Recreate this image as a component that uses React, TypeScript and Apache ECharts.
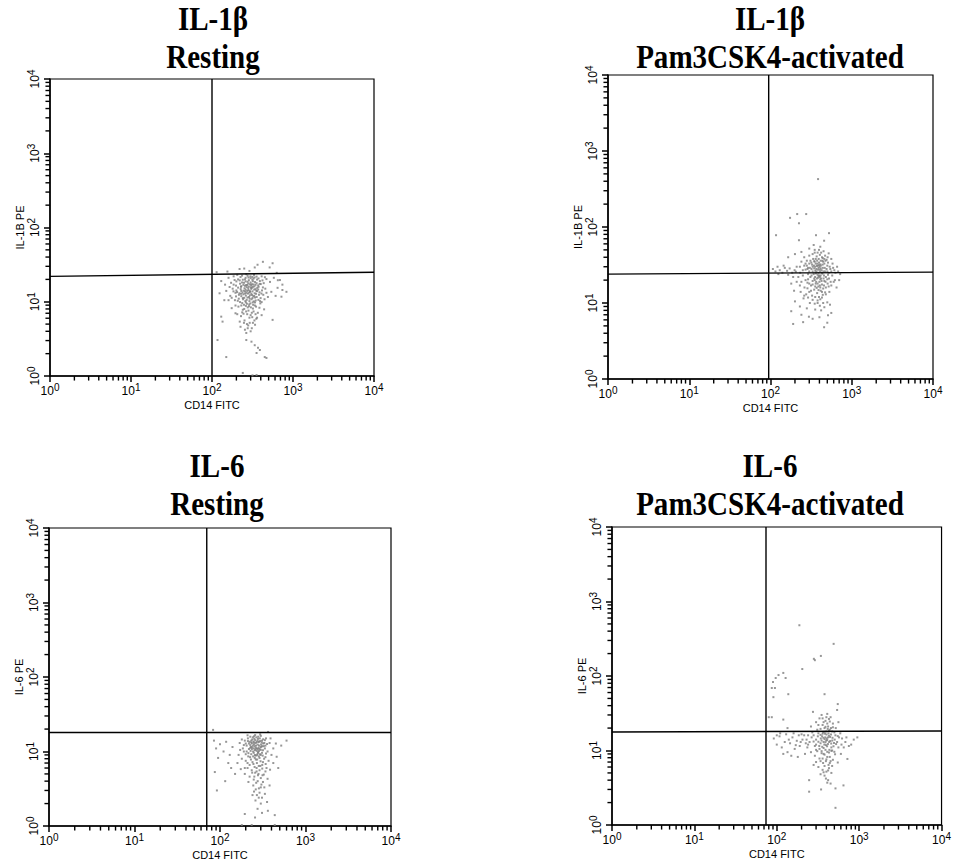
import React, { useEffect, useRef } from "react";
import * as echarts from "echarts";

// ---------- data ----------
const decadeTicks = [1, 10, 100, 1000, 10000];
const minorTicks = [2, 3, 4, 5, 6, 7, 8, 9, 20, 30, 40, 50, 60, 70, 80, 90, 200, 300, 400, 500, 600, 700, 800, 900, 2000, 3000, 4000, 5000, 6000, 7000, 8000, 9000];

const panelTitles = ["IL-1β\nResting", "IL-1β\nPam3CSK4-activated", "IL-6\nResting", "IL-6\nPam3CSK4-activated"];
const xAxisNames = ["CD14 FITC", "CD14 FITC", "CD14 FITC", "CD14 FITC"];
const yAxisNames = ["IL-1B PE", "IL-1B PE", "IL-6 PE", "IL-6 PE"];

// quadrant gates: vertical x value, horizontal y value at left / right edge
const gateX = [100, 95, 70, 74];
const gateYLeft = [22, 24, 18, 17.7];
const gateYRight = [25, 25.5, 18, 18.3];

const il1bResting = [
  [114, 25], [155, 25.5], [219, 27.6], [337, 29], [365, 31.5], [425, 34.5], [515, 29], [560, 33], [630, 24.5], [290, 26], [250, 28],
  [130, 19], [145, 17], [160, 21], [172, 18], [185, 22], [198, 16.5], [210, 20], [222, 17.5], [235, 22.5], [248, 18], [260, 21], [272, 16.8], [285, 19.5], [298, 22], [312, 17.2], [325, 20.5], [340, 18.4], [355, 21.8], [372, 16.6], [390, 19], [410, 22], [435, 17.8], [470, 20.2], [520, 18.5], [580, 21], [650, 19.5], [740, 17], [205, 23], [265, 23.5], [330, 23], [200, 18.8], [240, 19.8], [280, 17.6], [320, 18.9], [360, 19.9], [300, 20.8], [225, 21.5], [275, 22.4], [315, 21.6], [190, 19.6], [255, 16.4], [345, 16.9], [400, 17.3], [450, 21.4],
  [150, 14], [168, 12], [180, 15], [192, 10.5], [204, 13.5], [214, 11], [226, 14.8], [236, 9.6], [244, 12.6], [252, 15.2], [258, 10.2], [266, 13.2], [274, 11.4], [282, 14.4], [288, 9.2], [294, 12.2], [302, 15.6], [308, 10.8], [316, 13.8], [324, 11.8], [332, 14.6], [340, 9.8], [350, 12.8], [362, 15.4], [374, 10.6], [386, 13.4], [398, 11.2], [414, 14.2], [430, 12.4], [455, 15], [490, 11.6], [540, 13.6], [610, 12], [218, 13], [230, 11.9], [262, 12.1], [278, 12.9], [296, 13.6], [312, 12.3], [328, 10.1], [246, 14.1], [268, 15.8], [292, 11], [336, 13], [356, 11.6], [270, 9.4], [250, 11.3], [238, 13.3], [305, 14.9], [320, 15.9], [285, 16], [260, 14.6], [345, 14.8], [210, 15.5], [195, 13.2], [380, 12.4], [230, 16.2],
  [175, 8.2], [195, 7], [212, 8.6], [228, 6.4], [240, 7.8], [252, 5.6], [262, 8.8], [272, 6.8], [282, 7.6], [292, 5.2], [302, 8.4], [314, 6.2], [326, 7.4], [338, 8.9], [352, 5.9], [368, 7.1], [385, 8.3], [410, 6.6], [440, 7.9], [250, 8], [286, 8.7], [230, 8.9], [320, 8.1], [270, 5], [300, 6.6], [245, 6.9], [345, 6.8], [220, 5.4],
  [225, 4.6], [255, 4.2], [280, 4.8], [310, 4.4], [340, 4.9], [265, 3.8], [300, 4],
  [117, 3.05], [150, 1.8], [265, 3.05], [307, 2.9], [337, 2.6], [370, 2.4], [390, 2.24], [355, 2.04], [448, 1.8], [470, 1.75], [240, 1.1], [316, 1.02], [355, 1.03],
  [124, 13], [130, 6.3], [135, 5.4], [142, 10.5], [645, 15.4], [740, 14.4], [830, 13.6], [720, 11.7], [560, 5.7], [690, 19.6],
  [200, 14.2], [215, 12.4], [228, 15.9], [242, 10.8], [256, 13.8], [268, 10.6], [280, 15.2], [294, 13.9], [306, 12.8], [318, 9.8], [332, 12], [346, 10.4], [360, 13.9], [376, 15.9], [392, 10.2], [408, 12.9], [425, 15.6], [445, 10.8], [470, 13.2], [235, 18.2], [255, 20], [275, 18.6], [295, 17.2], [315, 19.8], [335, 21.2], [355, 17.8], [375, 20.6], [420, 19.4], [185, 17], [165, 15.8], [222, 9.9], [248, 9.1], [276, 8.4], [298, 9.5], [322, 9.1], [350, 8.6], [395, 9.5], [208, 10.3], [236, 7.2], [264, 7.4], [310, 7.1], [334, 5.6], [360, 6.1], [248, 5.2], [228, 12.8], [264, 16.8], [288, 13.3], [304, 16.6], [244, 16.9], [326, 17.1], [272, 14], [256, 12.9], [290, 10.2], [316, 11.2], [240, 11.2], [260, 18.8], [300, 18.2], [282, 21.2], [340, 11.4], [372, 14.6], [198, 11.8], [184, 13.8], [220, 19.4], [230, 14], [262, 9.8], [286, 11.6], [310, 15.4], [334, 16.1], [352, 14.1], [388, 17.4], [410, 9.9], [160, 10.5], [175, 11.3], [290, 6.1], [320, 5.2], [276, 4.4], [205, 6.8], [195, 8.9],
];

const il1bActivated = [
  [385, 427], [174, 132], [213, 148], [275, 148], [224, 112], [117, 78], [224, 67], [363, 78], [525, 83], [457, 66],
  [300, 52], [340, 58], [410, 55], [450, 48], [380, 46], [330, 44], [470, 42], [260, 40], [520, 45], [360, 38], [430, 40], [280, 36], [395, 50], [415, 36], [350, 50], [240, 47], [560, 38], [490, 37], [200, 44], [165, 40],
  [230, 30], [250, 27], [270, 33], [290, 24], [305, 29], [318, 34], [330, 26], [342, 31], [354, 22], [366, 28], [378, 33], [390, 25], [402, 30], [414, 23], [426, 27], [438, 32], [450, 26], [465, 29], [480, 22], [500, 31], [520, 25], [545, 28], [575, 23], [610, 27], [660, 30], [720, 24], [310, 22], [350, 35], [372, 21], [396, 34], [420, 21], [445, 35], [362, 24.5], [385, 27.5], [408, 26], [330, 30], [372, 30.8], [398, 23], [436, 24.3], [356, 26.5], [380, 23.5], [345, 28.5], [410, 32.2], [390, 29], [300, 26], [280, 31], [460, 33], [510, 34], [270, 27.5], [320, 23],
  [107, 28], [115, 26], [122, 30], [130, 27], [140, 25], [150, 29], [160, 26.5], [172, 28.5], [185, 25], [198, 27], [210, 30], [125, 24], [145, 31], [165, 23.5], [190, 22], [205, 25.8],
  [240, 19], [262, 16], [285, 18.5], [300, 14], [315, 17], [330, 19.5], [345, 15], [360, 18], [375, 13.5], [388, 16.5], [400, 19], [415, 14.5], [430, 17.5], [445, 15.5], [460, 19.5], [480, 16], [505, 18], [530, 14], [560, 17], [600, 19], [275, 13], [325, 12.5], [370, 15.8], [395, 12], [440, 12.8], [350, 20], [410, 20.5], [290, 20.5], [230, 17], [210, 19], [650, 16], [700, 20], [180, 18], [195, 14.5],
  [200, 10.5], [230, 9], [255, 11.5], [280, 8.5], [305, 10], [330, 11], [355, 8.2], [380, 10.8], [405, 9.2], [430, 11.8], [460, 8.8], [500, 10.2], [540, 9.5], [290, 11.8], [350, 9.8], [420, 8],
  [190, 5.3], [252, 5.6], [297, 6.6], [457, 4.8], [500, 5.5], [510, 6.9], [240, 7], [330, 6.2], [400, 6.5], [560, 7.4], [180, 7.8],
  [300, 33], [320, 28], [340, 24], [355, 30], [368, 26], [380, 31], [392, 22.5], [404, 27.5], [416, 31], [428, 25], [440, 29], [455, 23], [470, 26], [490, 28], [510, 23.5], [535, 30], [560, 26], [590, 29], [630, 25], [345, 21], [365, 19], [385, 21.5], [405, 17], [425, 19.5], [450, 21], [475, 19], [500, 20.5], [330, 17.5], [355, 16.5], [380, 18], [405, 22], [430, 14], [455, 17], [480, 13], [520, 16.5], [550, 19], [300, 18], [270, 20], [250, 23], [260, 31], [285, 28], [310, 36], [335, 38], [370, 41], [405, 43], [440, 39], [475, 36], [505, 40], [300, 42], [350, 46], [392, 38], [420, 46], [360, 33], [375, 36], [395, 31.5], [415, 28.5], [435, 36], [460, 38], [345, 35.5], [325, 32], [290, 29], [232, 25], [240, 35], [220, 22], [500, 26], [525, 21], [580, 33], [620, 20], [680, 26], [355, 12], [380, 10], [410, 11.2], [445, 10], [470, 13.8], [315, 14.5], [285, 15.6], [260, 12.5], [235, 14], [390, 14.8], [410, 16],
];

const il6Resting = [
  [83, 19.5], [295, 17], [365, 18.3], [210, 16.5], [250, 16],
  [170, 13], [185, 11], [195, 14], [205, 12], [215, 9.5], [222, 13.5], [230, 11.5], [238, 14.5], [244, 10], [250, 12.5], [256, 9], [262, 13], [268, 11], [274, 14], [280, 9.8], [286, 12], [292, 15], [300, 10.5], [308, 13.2], [316, 8.8], [325, 11.8], [335, 14.2], [345, 9.4], [355, 12.6], [165, 9], [180, 8], [200, 7.5], [225, 8.4], [240, 7.2], [255, 8.2], [270, 7], [285, 8.6], [298, 7.4], [312, 6.6], [328, 8], [342, 6.8], [190, 10], [212, 15], [232, 9.2], [246, 13.6], [260, 10.6], [276, 12.4], [290, 10.8], [304, 11.6], [320, 14.6], [238, 11.4], [252, 14.8], [266, 15.5], [282, 13.4], [226, 12.2], [244, 8.6], [262, 7.8], [278, 9.6], [296, 13.8], [218, 10.8], [200, 12.8], [310, 9.6], [270, 10.2], [248, 11], [232, 14], [290, 8.2], [335, 11], [360, 10],
  [175, 5.8], [195, 5], [210, 6], [222, 4.6], [235, 5.6], [248, 4.2], [258, 5.2], [268, 6], [278, 4.8], [290, 5.6], [300, 4.4], [312, 5.9], [325, 4.9], [340, 5.4], [360, 4.3], [385, 5.7], [150, 5], [245, 3.5], [265, 3.8], [285, 3.2], [305, 3.6], [330, 3.3], [215, 3.9], [380, 3.5],
  [250, 2.9], [270, 2.6], [290, 2.8], [310, 2.4], [260, 2.2], [300, 2], [335, 2.7], [355, 2.1], [195, 1.45], [257, 1.3], [310, 1.5], [363, 1.6], [437, 1.4], [437, 1.03], [180, 1.03], [235, 1.03], [275, 1.7],
  [85, 14], [90, 11], [95, 8.2], [100, 12.5], [110, 10], [118, 13.5], [125, 7], [87, 5.3], [92, 3], [130, 9], [140, 11.5], [135, 6], [115, 4],
  [380, 13], [420, 11], [460, 8.5], [520, 12], [600, 14], [420, 7], [480, 6], [400, 9], [390, 15], [450, 12.8],
  [205, 10], [218, 12.8], [228, 10.2], [236, 12.9], [242, 15.5], [248, 9.6], [254, 11.8], [258, 14.2], [264, 12], [270, 8.9], [276, 10.8], [282, 11.2], [288, 13.6], [294, 9.2], [302, 12.4], [310, 14], [318, 10.4], [330, 13], [340, 12], [226, 15.8], [258, 16.6], [280, 15.8], [300, 16.2], [236, 10.8], [250, 13.2], [262, 11.2], [274, 9.2], [286, 10.2], [298, 11.4], [312, 11.8], [214, 8.6], [230, 7.8], [246, 6.8], [260, 8.8], [272, 7.8], [284, 6.4], [300, 9], [318, 7.2], [340, 8.4], [222, 6.6], [238, 5.2], [254, 6.2], [268, 5.4], [282, 5], [296, 6.4], [314, 4.8], [252, 4.6], [276, 4], [300, 3.3], [262, 3.1], [240, 2.6], [284, 2.4], [318, 3.9], [350, 6], [370, 7.5], [190, 12.2], [180, 14.5], [172, 10.5], [160, 7], [200, 9.2], [212, 13.8], [226, 11.2], [242, 12], [256, 10.4], [268, 13.4], [232, 13.2], [278, 14.8], [320, 12.8], [345, 15], [210, 7], [195, 6],
];

const il6Activated = [
  [188, 480], [490, 270], [282, 170], [290, 163], [343, 186], [204, 124], [105, 103], [120, 110], [128, 94], [97, 94], [90, 83], [87, 69], [95, 69], [91, 52], [138, 57], [380, 57], [80, 28], [87, 28], [120, 26], [135, 20], [275, 33], [550, 42], [540, 35],
  [300, 24], [330, 27], [360, 22], [390, 25], [420, 21], [450, 28], [480, 23], [350, 30], [410, 31], [440, 19], [310, 19], [380, 20], [470, 18], [260, 21], [520, 20], [560, 24],
  [280, 16], [300, 14], [320, 17], [340, 12.5], [355, 15.5], [370, 13], [385, 16.8], [395, 11.8], [405, 14.5], [418, 12.2], [430, 15.8], [445, 13.4], [460, 11], [475, 14.8], [495, 12.6], [515, 16], [540, 13], [570, 15], [610, 12], [250, 13], [265, 15], [230, 14], [290, 11.5], [330, 10.5], [365, 17.5], [400, 18], [435, 10.2], [380, 14.2], [410, 13.8], [350, 13.6], [425, 17], [390, 12.9], [370, 10.8], [455, 16.4], [340, 16.2], [320, 13.1], [500, 17.5], [700, 15], [650, 11], [800, 12], [950, 15],
  [260, 9.5], [290, 8.5], [310, 9.8], [330, 7.8], [350, 9.2], [365, 6.8], [380, 8.8], [395, 7.2], [410, 9.6], [425, 6.4], [440, 8.2], [460, 9.9], [480, 7.5], [510, 8.9], [550, 6.9], [600, 9], [720, 7.7], [320, 6], [360, 5.5], [400, 5.2], [430, 5.8], [470, 6.2], [380, 4.6], [340, 4.8], [300, 7], [280, 6.4],
  [247, 4], [247, 2.8], [345, 3], [516, 1.7], [645, 3.4], [516, 3.1], [420, 4], [450, 3.6],
  [92, 14.5], [100, 12], [108, 15.5], [115, 11], [125, 13], [135, 9.5], [145, 12.5], [155, 15], [165, 10.5], [175, 13.5], [190, 11.5], [205, 14], [220, 9], [235, 11], [150, 8.5], [180, 8.2], [200, 16.5], [240, 16], [130, 16.5], [160, 17],
  [300, 12], [315, 15.5], [328, 11.5], [342, 14.5], [356, 11.2], [368, 14.8], [378, 12], [388, 15], [398, 13.6], [408, 11.4], [420, 15], [432, 13], [444, 15.2], [458, 12.4], [472, 13.6], [488, 11.4], [505, 14], [525, 12.2], [550, 15.6], [360, 16.8], [380, 17.8], [402, 16.4], [430, 18.4], [455, 20], [340, 19.5], [320, 22], [370, 24], [410, 23], [440, 24.5], [480, 20.5], [350, 9.8], [370, 9], [390, 10.2], [410, 8.2], [430, 9.4], [450, 7.2], [470, 10], [500, 9.6], [340, 7.2], [380, 6.2], [400, 7.6], [420, 5.4], [360, 7.8], [440, 6.8], [460, 5], [395, 4.2], [370, 5.1], [410, 3.7], [300, 10.2], [280, 13.2], [270, 17.5], [240, 12], [215, 16], [225, 12.5], [195, 13], [185, 16], [170, 11.8], [140, 14], [120, 9], [110, 17], [100, 16], [560, 11], [590, 17], [620, 14.5], [680, 13], [750, 11.5], [860, 14], [400, 28], [360, 27], [430, 26.5], [390, 20.8], [415, 19.5],
];

const panelData = [il1bResting, il1bActivated, il6Resting, il6Activated];

// ---------- layout ----------
const grids = [
  { left: 50, top: 79, width: 324, height: 297 },
  { left: 608, top: 75, width: 325, height: 304 },
  { left: 49, top: 528, width: 342, height: 298 },
  { left: 612, top: 527, width: 336, height: 298 },
];
const titlePos = [
  { x: 213, y: 0 },
  { x: 770, y: 0 },
  { x: 217, y: 447 },
  { x: 770, y: 447 },
];

const SANS = "Liberation Sans, Arial, sans-serif";
const SERIF = "Liberation Serif, Times New Roman, serif";

const powFormatter = (v: number) => {
  const e = Math.round(Math.log10(v));
  return `{b|10}{s|${e}}`;
};
const labelRich = {
  b: { fontSize: 12, fontFamily: SANS, color: "#000" },
  s: { fontSize: 10, fontFamily: SANS, color: "#000", padding: [0, 0, 7, 0] },
};

const tickSeries = (i: number, data: number[][], size: number[], offset: number[]) => ({
  type: "scatter",
  xAxisIndex: i,
  yAxisIndex: i,
  data,
  symbol: "rect",
  symbolSize: size,
  symbolOffset: offset,
  itemStyle: { color: "#000", opacity: 1 },
  clip: false,
  silent: true,
  z: 6,
});

export default function App() {
  const ref = useRef<HTMLDivElement>(null);
  useEffect(() => {
    if (!ref.current) return;
    const chart = echarts.init(ref.current, null, { renderer: "svg" });
    const xAxis: any[] = [];
    const yAxis: any[] = [];
    const series: any[] = [];
    grids.forEach((g, i) => {
      const base = { type: "log", logBase: 10, min: 1, max: 10000, gridIndex: i, splitLine: { show: false } };
      xAxis.push({
        ...base,
        position: "bottom",
        axisLine: { onZero: false, lineStyle: { color: "#000", width: 1.5 } },
        axisTick: { show: true, inside: false, length: 6, lineStyle: { color: "#000", width: 1.5 } },
        axisLabel: { formatter: powFormatter, rich: labelRich, margin: 6 },
        name: xAxisNames[i],
        nameLocation: "middle",
        nameGap: 23,
        nameTextStyle: { fontFamily: SANS, fontSize: 11, color: "#000" },
      });
      yAxis.push({
        ...base,
        position: "left",
        axisLine: { onZero: false, lineStyle: { color: "#000", width: 1.5 } },
        axisTick: { show: true, inside: false, length: 6, lineStyle: { color: "#000", width: 1.5 } },
        axisLabel: { formatter: powFormatter, rich: labelRich, margin: 7, rotate: 90 },
        name: yAxisNames[i],
        nameLocation: "middle",
        nameGap: 22,
        nameRotate: 90,
        nameTextStyle: { fontFamily: SANS, fontSize: 11, color: "#000" },
      });
      // log-spaced minor tick marks, placed through the axes
      series.push(tickSeries(i, minorTicks.map((t) => [t, 1]), [1.4, 4.5], [0, 2.3]));
      series.push(tickSeries(i, minorTicks.map((t) => [1, t]), [4.5, 1.4], [-2.3, 0]));
      series.push({
        type: "scatter",
        xAxisIndex: i,
        yAxisIndex: i,
        data: panelData[i],
        symbol: "rect",
        symbolSize: 2,
        itemStyle: { color: "#7d7d7d" },
        silent: true,
      });
      series.push({
        type: "line",
        xAxisIndex: i,
        yAxisIndex: i,
        data: [[gateX[i], 1], [gateX[i], 10000]],
        symbol: "none",
        lineStyle: { color: "#000", width: 1.4 },
        silent: true,
      });
      series.push({
        type: "line",
        xAxisIndex: i,
        yAxisIndex: i,
        data: [[1, gateYLeft[i]], [10000, gateYRight[i]]],
        symbol: "none",
        lineStyle: { color: "#000", width: 1.4 },
        silent: true,
      });
    });
    chart.setOption({
      animation: false,
      backgroundColor: "#fff",
      grid: grids.map((g) => ({ ...g, show: true, borderColor: "#000", borderWidth: 1.2, backgroundColor: "transparent" })),
      xAxis,
      yAxis,
      series,
      graphic: panelTitles.map((t, i) => ({
        type: "text",
        x: titlePos[i].x,
        y: titlePos[i].y,
        scaleX: 0.88,
        style: {
          text: t,
          textAlign: "center",
          fontFamily: SERIF,
          fontWeight: "bold",
          fontSize: 33,
          lineHeight: 38,
          fill: "#000",
        },
      })),
    });
    return () => chart.dispose();
  }, []);
  return <div ref={ref} style={{ position: "fixed", left: 0, top: 0, width: 954, height: 865 }} />;
}
